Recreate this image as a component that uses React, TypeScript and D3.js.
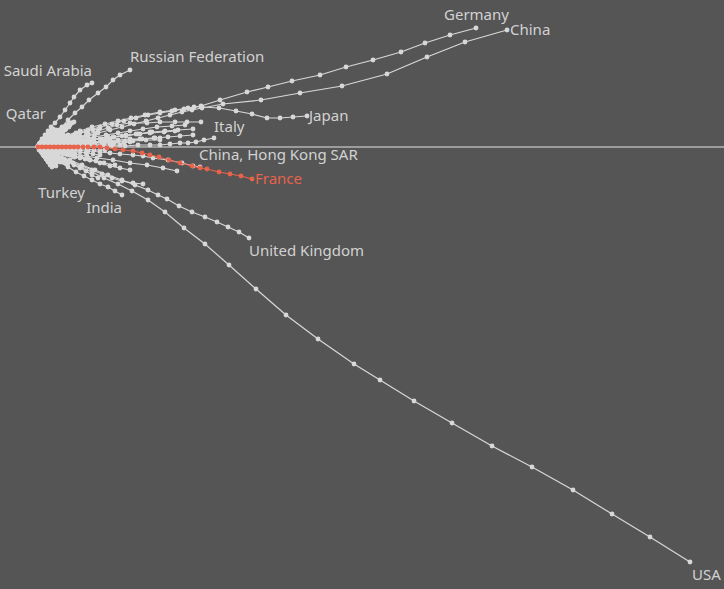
import React from "react";
import * as d3 from "d3";

type Pt = [number, number];

// Cumulative trajectories (x: cumulative trade index, y: cumulative balance index)
const usa: Pt[] = [[0,0],[10,-5],[20,-10],[30,-15],[42,-20],[54,-25],[66,-31],[80,-37],[94,-44],[110,-53],[127,-65],[146,-81],[167,-97],[191,-118],[218,-142],[248,-168],[280,-192],[316,-217],[342,-233],[376,-254],[414,-276],[454,-299],[494,-320],[535,-343],[574,-367],[612,-390],[652,-415]];
const uk: Pt[] = [[0,0],[10,-4],[20,-8],[32,-13],[44,-18],[57,-23],[70,-28],[84,-33],[97,-38],[110,-43],[120,-48],[129,-52],[141,-59],[154,-65],[167,-70],[179,-75],[190,-80],[201,-85],[211,-91]];
const france: Pt[] = [[0,0],[4,0],[8,0],[12,0],[16,0],[20,0],[24,0],[28,0],[32,0],[36,0],[40,0],[45,0],[50,0],[56,0],[62,0],[69,-1],[77,-2],[85,-3],[95,-4],[104,-6],[112,-8],[121,-10],[131,-13],[142,-16],[154,-19],[162,-21],[169,-22],[181,-25],[192,-27],[203,-29],[214,-32]];
const germany: Pt[] = [[0,0],[10,4],[20,8],[30,12],[42,16],[54,20],[67,23],[80,26],[93,29],[107,32],[122,35],[137,37],[150,39],[163,41],[182,47],[209,55],[230,60],[254,66],[282,72],[308,80],[335,87],[363,95],[387,104],[412,112],[438,119]];
const china: Pt[] = [[0,0],[12,2],[24,5],[36,8],[48,11],[60,14],[72,17],[84,20],[96,23],[108,26],[120,29],[132,32],[144,35],[154,37],[164,39],[185,43],[223,47],[262,54],[304,61],[349,73],[389,90],[427,105],[469,117]];
const japan: Pt[] = [[0,0],[8,4],[17,8],[27,11],[38,14],[50,17],[62,20],[74,23],[86,26],[98,29],[110,32],[122,34],[134,36],[146,38],[156,40],[164,40],[181,39],[198,36],[214,33],[229,29],[242,29],[255,30],[269,31]];
const russia: Pt[] = [[0,0],[3,4],[6,8],[10,11],[14,14],[18,17],[24,20],[30,27],[37,34],[44,40],[51,47],[60,54],[68,60],[75,67],[82,72],[92,77]];
const saudi: Pt[] = [[0,0],[2,4],[4,8],[7,12],[10,16],[13,20],[17,24],[22,30],[27,37],[32,44],[36,50],[42,57],[49,62],[54,64]];
const qatar: Pt[] = [[0,0],[3,3],[6,6],[9,8],[12,10],[15,12],[18,14],[21,16],[24,18],[27,20],[30,22],[33,24],[36,25]];
const uae: Pt[] = [[0,0],[2,3],[5,5],[8,7],[11,9],[14,11],[17,13],[20,15],[23,17],[26,19],[29,20],[32,22]];
const kuwait: Pt[] = [[0,0],[3,2],[6,4],[9,6],[12,8],[15,10],[18,12],[21,14],[24,15],[27,17]];
const oman: Pt[] = [[0,0],[2,2],[4,4],[6,6],[8,7],[10,9],[13,11],[16,13],[19,15],[22,17],[25,19],[28,21],[31,23],[34,24]];
const iraq: Pt[] = [[0,0],[3,2],[5,4],[8,6],[10,8],[13,10],[16,11],[19,13],[22,15],[25,16],[28,18],[31,20]];
const bahrain: Pt[] = [[0,0],[1,3],[3,5],[5,8],[7,10],[9,12],[11,14],[13,16],[15,18]];
const algeria: Pt[] = [[0,0],[2,2],[4,3],[6,5],[8,6],[10,8],[12,9],[14,11],[16,12],[18,14],[20,15],[22,17]];
const iran: Pt[] = [[0,0],[2,2],[4,3],[6,5],[8,6],[10,8],[12,9],[14,10],[16,12],[18,13],[20,14]];
const italy: Pt[] = [[0,0],[10,2],[20,4],[30,7],[40,10],[50,13],[60,16],[70,19],[79,22],[92,24],[109,24],[122,25],[137,25],[149,25],[163,25]];
const hongKong: Pt[] = [[0,0],[12,0],[24,0],[37,0],[50,0],[62,1],[75,1],[87,1],[100,2],[112,2],[122,2],[132,3],[142,4],[150,4],[158,5],[166,7],[176,9]];
const korea: Pt[] = [[0,0],[12,1],[24,3],[37,5],[50,7],[62,8],[75,10],[88,12],[102,13],[114,15],[127,16],[140,17],[155,18]];
const netherlands: Pt[] = [[0,0],[10,2],[20,4],[32,6],[44,8],[56,10],[68,12],[80,14],[92,16],[105,18],[119,20],[134,21],[147,22]];
const singapore: Pt[] = [[0,0],[14,1],[28,2],[42,3],[57,4],[72,5],[87,6],[102,8],[117,9],[130,10],[142,11],[155,12]];
const switzerland: Pt[] = [[0,0],[10,1],[20,3],[32,5],[44,6],[56,8],[70,10],[84,11],[98,13],[112,14],[126,15],[137,16]];
const taiwan: Pt[] = [[0,0],[12,1],[25,2],[38,3],[52,4],[66,5],[80,6],[95,6],[108,7],[122,7]];
const belgium: Pt[] = [[0,0],[12,-1],[24,-2],[37,-3],[50,-4],[62,-5],[72,-6],[82,-7],[95,-8],[105,-9],[115,-11],[130,-13],[144,-16],[155,-19],[162,-20]];
const canada: Pt[] = [[0,0],[12,-3],[24,-5],[37,-7],[49,-9],[59,-11],[75,-13],[92,-16],[109,-18],[125,-21],[139,-24]];
const mexico: Pt[] = [[0,0],[8,-4],[17,-8],[26,-12],[35,-16],[44,-19],[54,-23],[64,-27],[74,-31],[84,-34],[95,-36],[105,-37]];
const turkey: Pt[] = [[0,0],[6,-3],[12,-6],[18,-9],[24,-12],[30,-15],[36,-18],[42,-21],[48,-24],[54,-28],[60,-31]];
const india: Pt[] = [[0,0],[7,-5],[14,-10],[22,-15],[30,-20],[38,-25],[46,-29],[54,-33],[62,-37],[70,-40],[77,-44],[84,-48]];
const brazil: Pt[] = [[0,0],[2,-3],[4,-6],[6,-9],[8,-12],[10,-15],[12,-18],[14,-20]];
const australia: Pt[] = [[0,0],[3,-3],[6,-6],[9,-9],[12,-11],[15,-14],[18,-16]];
const peru: Pt[] = [[0,0],[1,-3],[3,-5],[5,-8],[7,-10],[9,-13],[11,-15],[13,-17],[15,-19]];
const colombia: Pt[] = [[0,0],[2,-2],[4,-4],[6,-7],[8,-9],[10,-11],[12,-13],[14,-15],[16,-17],[18,-19]];
const pakistan: Pt[] = [[0,0],[3,-2],[6,-4],[9,-6],[12,-8],[15,-10],[18,-12],[21,-13],[24,-15],[27,-16]];
const malaysia: Pt[] = [[0,0],[6,2],[12,4],[18,6],[24,8],[30,10],[36,12],[42,14],[48,15],[55,17],[62,19]];
const thailand: Pt[] = [[0,0],[6,1],[12,3],[18,4],[24,5],[30,7],[36,8],[42,10],[50,11],[57,13]];
const sweden: Pt[] = [[0,0],[8,1],[16,2],[24,2],[32,3],[40,4],[48,5],[56,5],[64,6],[72,7]];
const norway: Pt[] = [[0,0],[5,1],[10,2],[15,2],[20,3],[25,4],[30,4],[36,5],[41,5],[47,6]];
const austria: Pt[] = [[0,0],[8,0],[16,1],[24,1],[32,1],[40,1],[48,1],[56,2],[64,2],[72,2],[82,2]];
const poland: Pt[] = [[0,0],[5,0],[10,-1],[15,-1],[20,-2],[25,-2],[30,-3],[36,-3],[42,-4]];
const spain: Pt[] = [[0,0],[6,-1],[12,-2],[18,-2],[24,-3],[30,-4],[36,-5],[42,-5],[48,-6],[55,-7],[62,-8]];
const greece: Pt[] = [[0,0],[4,-1],[8,-2],[12,-3],[16,-4],[20,-5],[24,-6],[28,-7],[32,-8],[37,-10]];
const vietNam: Pt[] = [[0,0],[5,-1],[10,-3],[15,-4],[20,-5],[25,-7],[30,-8],[36,-10],[42,-11],[47,-12],[52,-13]];
const egypt: Pt[] = [[0,0],[3,-2],[6,-4],[9,-6],[12,-7],[15,-9],[18,-10],[21,-12],[24,-14],[27,-15],[30,-16]];
const nigeria: Pt[] = [[0,0],[2,1],[5,3],[7,4],[10,6],[12,8],[15,9],[18,11],[21,13],[24,14]];
const indonesia: Pt[] = [[0,0],[4,1],[8,2],[12,3],[16,4],[20,6],[24,7],[28,8],[32,10],[36,11]];
const ireland: Pt[] = [[0,0],[9,0],[18,1],[27,1],[36,2],[46,2],[56,3],[66,3],[76,4],[86,4],[92,5]];
const philippines: Pt[] = [[0,0],[7,0],[14,-1],[21,-1],[28,-1],[35,-2],[42,-2],[49,-2],[56,-3],[62,-3],[67,-3]];
const denmark: Pt[] = [[0,0],[5,0],[10,0],[15,0],[20,1],[25,1],[30,1],[35,1],[40,1],[45,1],[50,1]];
const portugal: Pt[] = [[0,0],[4,0],[8,0],[12,0],[16,-1],[20,-1],[24,-1],[28,-1],[32,-1]];
const chile: Pt[] = [[0,0],[3,1],[6,2],[9,3],[12,4],[15,5],[18,6],[20,7]];
const southAfrica: Pt[] = [[0,0],[2,-1],[4,-2],[6,-3],[8,-4],[10,-5],[12,-6],[14,-7],[17,-8]];
const czechia: Pt[] = [[0,0],[10,1],[20,2],[30,4],[40,5],[52,7],[64,8],[76,10],[88,11],[100,13],[112,15]];
const israel: Pt[] = [[0,0],[10,1],[20,2],[32,3],[44,4],[56,5],[68,6],[80,7],[92,8],[104,8],[116,9],[122,9]];
const argentina: Pt[] = [[0,0],[8,-2],[16,-4],[25,-6],[34,-8],[43,-10],[52,-13],[62,-16],[72,-19],[82,-21],[92,-23]];
const hungary: Pt[] = [[0,0],[7,-2],[14,-3],[21,-5],[28,-7],[35,-9],[42,-10],[50,-12],[58,-14],[66,-16],[77,-18]];
const newZealand: Pt[] = [[0,0],[3,0],[6,1],[9,1],[12,2],[15,2],[18,3],[21,3],[24,4],[27,4],[30,5]];
const romania: Pt[] = [[0,0],[3,-1],[6,-1],[9,-2],[12,-3],[15,-3],[18,-4],[21,-5],[24,-5],[27,-6],[30,-6],[33,-7]];
const ukraine: Pt[] = [[0,0],[3,1],[6,2],[9,3],[12,4],[15,5],[18,6],[21,7],[24,8],[27,9],[30,10]];
const kazakhstan: Pt[] = [[0,0],[2,1],[4,2],[6,3],[8,4],[10,5],[12,6],[14,7],[16,8],[18,9],[20,10],[22,11],[25,12]];
const bangladesh: Pt[] = [[0,0],[3,-2],[6,-3],[9,-5],[12,-6],[15,-8],[18,-9],[21,-11],[24,-12],[27,-13]];
const morocco: Pt[] = [[0,0],[2,-1],[4,-2],[6,-3],[8,-4],[10,-5],[12,-6],[14,-7],[16,-8],[18,-9],[20,-10],[23,-11]];
const finland: Pt[] = [[0,0],[3,0],[6,0],[9,0],[12,0],[15,-1],[18,-1],[21,-1],[24,-1],[27,-1],[30,-2],[33,-2],[36,-2]];
const slovakia: Pt[] = [[0,0],[3,1],[6,1],[9,2],[12,2],[15,3],[18,3],[21,4],[24,4],[27,5],[30,5],[33,6],[36,6],[40,7]];

const countryNames: string[] = [
  "USA","United Kingdom","Germany","China","Japan","Russian Federation","Saudi Arabia","Qatar",
  "United Arab Emirates","Kuwait","Oman","Iraq","Bahrain","Algeria","Iran","Italy","China, Hong Kong SAR",
  "Korea","Netherlands","Singapore","Switzerland","Taiwan","Belgium","Canada","Mexico","Turkey","India",
  "Brazil","Australia","Peru","Colombia","Pakistan","Malaysia","Thailand","Sweden","Norway","Austria",
  "Poland","Spain","Greece","Viet Nam","Egypt","Nigeria","Indonesia","Ireland","Philippines","Denmark",
  "Portugal","Chile","South Africa","Czechia","Israel","Argentina","Hungary","New Zealand","Romania",
  "Ukraine","Kazakhstan","Bangladesh","Morocco","Finland","Slovakia","France",
];
const countryPoints: Pt[][] = [
  usa, uk, germany, china, japan, russia, saudi, qatar, uae, kuwait, oman, iraq, bahrain, algeria, iran,
  italy, hongKong, korea, netherlands, singapore, switzerland, taiwan, belgium, canada, mexico, turkey, india,
  brazil, australia, peru, colombia, pakistan, malaysia, thailand, sweden, norway, austria, poland, spain,
  greece, vietNam, egypt, nigeria, indonesia, ireland, philippines, denmark, portugal, chile, southAfrica,
  czechia, israel, argentina, hungary, newZealand, romania, ukraine, kazakhstan, bangladesh, morocco,
  finland, slovakia, france,
];
const highlighted = "France";

// Label placement (layout only): offset from last point, and text anchor
const labelLayout: Record<string, { dx: number; dy: number; anchor: string }> = {
  "Germany": { dx: -32, dy: -8, anchor: "start" },
  "China": { dx: 3, dy: 5, anchor: "start" },
  "Japan": { dx: 2, dy: 5, anchor: "start" },
  "Russian Federation": { dx: 0, dy: -8, anchor: "start" },
  "Saudi Arabia": { dx: 0, dy: -7, anchor: "end" },
  "Qatar": { dx: -28, dy: -3, anchor: "end" },
  "Italy": { dx: 13, dy: 10, anchor: "start" },
  "China, Hong Kong SAR": { dx: -15, dy: 22, anchor: "start" },
  "France": { dx: 3, dy: 5, anchor: "start" },
  "Turkey": { dx: -13, dy: 20, anchor: "end" },
  "India": { dx: 0, dy: 18, anchor: "end" },
  "United Kingdom": { dx: 0, dy: 18, anchor: "start" },
  "USA": { dx: 2, dy: 18, anchor: "start" },
};

const W = 724;
const H = 589;

export default function App() {
  const x = d3.scaleLinear().domain([-38, 686]).range([0, W]);
  const y = d3.scaleLinear().domain([147, -442]).range([0, H]);
  const line = d3.line<Pt>().x((d) => x(d[0])).y((d) => y(d[1]));
  const grey = "#d8d8d8";
  const red = "#e8634c";
  const order = countryNames.map((n, i) => i).sort((a, b) =>
    (countryNames[a] === highlighted ? 1 : 0) - (countryNames[b] === highlighted ? 1 : 0));

  return (
    <svg width={W} height={H} style={{ position: "fixed", left: 0, top: 0, display: "block" }}
      fontFamily="'Noto Sans', sans-serif">
      <rect x={0} y={0} width={W} height={H} fill="#555555" />
      <line x1={0} x2={W} y1={y(0)} y2={y(0)} stroke="#e4e4e4" strokeWidth={1} />
      {order.map((i) => {
        const name = countryNames[i];
        const pts = countryPoints[i];
        const c = name === highlighted ? red : grey;
        return (
          <g key={name}>
            <path d={line(pts) || ""} fill="none" stroke={c} strokeWidth={1.2} />
            {pts.map((p, j) => (
              <circle key={j} cx={x(p[0])} cy={y(p[1])} r={2.4} fill={c} />
            ))}
          </g>
        );
      })}
      {countryNames.map((name, i) => {
        const L = labelLayout[name];
        if (!L) return null;
        const last = countryPoints[i][countryPoints[i].length - 1];
        return (
          <text key={"l" + name} x={x(last[0]) + L.dx} y={y(last[1]) + L.dy}
            textAnchor={L.anchor} fontSize={15}
            fill={name === highlighted ? red : "#d2d2d2"}>
            {name}
          </text>
        );
      })}
    </svg>
  );
}
